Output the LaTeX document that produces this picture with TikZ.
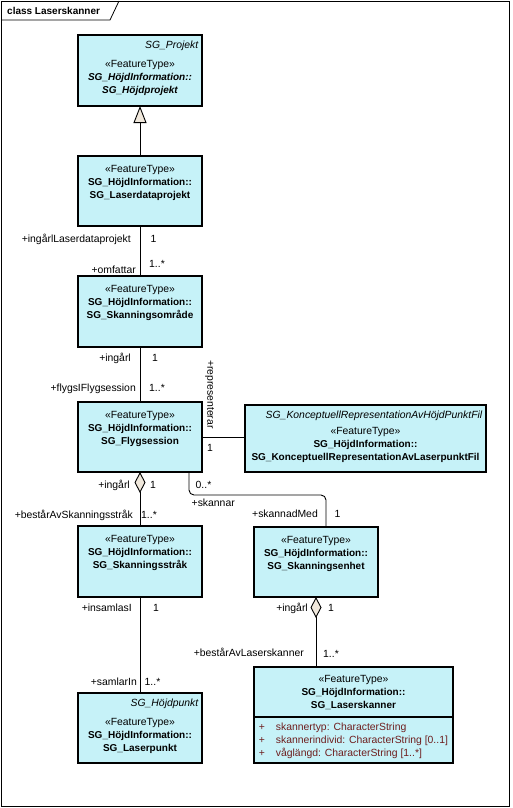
\documentclass[tikz,border=0pt]{standalone}
\usepackage{fontspec}
\setmainfont{Liberation Sans}
\usetikzlibrary{arrows.meta,positioning,calc}
\definecolor{klassFill}{RGB}{198,242,248}
\definecolor{tipFill}{RGB}{240,232,220}
\definecolor{attrText}{RGB}{110,30,30}

\begin{document}
\begin{tikzpicture}[x=1pt,y=-1pt,
    klass/.style={draw=black,line width=1.1pt,fill=klassFill,rectangle,anchor=north west,inner sep=0pt,outer sep=0pt},
    ktext/.style={align=center,inner sep=0pt,font=\fontsize{10.4}{13}\selectfont},
    rolle/.style={inner sep=0pt,text height=7.2pt,text depth=0pt,font=\fontsize{10.4}{13}\selectfont},
    assoc/.style={draw=black,line width=0.9pt},
    agg/.style={assoc,{Diamond[length=21pt,width=11pt,fill=tipFill,line width=0.9pt]}-},
    gen/.style={assoc,-{Triangle[length=17pt,width=13pt,fill=tipFill,line width=0.9pt]}}]

      \useasboundingbox (0,0) rectangle (512,808);

      % draw the frame
      \draw[line width=0.8pt] (1,1) rectangle (509,806);
      \draw[line width=0.8pt] (1,20) -- (110,20) -- (119,1);
      \node[rolle,anchor=west,font=\fontsize{10}{13}\selectfont\bfseries] (rubrik) at (7,11) {class Laserskanner};

      % draw the classes
      \def\klasser{
        hprojekt/78/35/124/71/24.7/\bfseries\itshape/SG\_Höjdprojekt,
        dataproj/78/156/124/70/9.4/\bfseries/SG\_Laserdataprojekt,
        omrade/78/276/124/71/9.4/\bfseries/SG\_Skanningsområde,
        flyg/78/402/124/70/9.4/\bfseries/SG\_Flygsession,
        konc/245/405/241/67/22.4/\bfseries/SG\_KonceptuellRepresentationAvLaserpunktFil,
        strak/78/526/124/71/9.4/\bfseries/SG\_Skanningsstråk,
        enhet/254/527/124/70/9.4/\bfseries/SG\_Skanningsenhet,
        punkt/78/693/124/70/25.4/\bfseries/SG\_Laserpunkt,
        skanner/254/667/199/96/8.4/\bfseries/SG\_Laserskanner
      }
      \foreach \id/\x/\y/\w/\h/\ned/\stil/\titel in \klasser
      {
        \node[klass,minimum width=\w pt,minimum height=\h pt] (\id) at (\x,\y) {};
        \node[ktext,below=\ned pt of \id.north] (\id-text) {«FeatureType»\\{\fontsize{10}{13}\selectfont\stil SG\_HöjdInformation::}\\{\fontsize{10}{13}\selectfont\stil \titel}};
      }

      % the abstract parents
      \foreach \id/\tag in {hprojekt/SG\_Projekt, konc/SG\_KonceptuellRepresentationAvHöjdPunktFil, punkt/SG\_Höjdpunkt}
        \node[rolle,anchor=east,font=\fontsize{10.4}{13}\selectfont\itshape] (\id-tag) at ([xshift=-3.5pt,yshift=-10pt]\id.north east) {\tag};

      % attributes of the laser scanner
      \draw[line width=1.1pt] ([yshift=-50pt]skanner.north west) -- ([yshift=-50pt]skanner.north east);
      \foreach \a [count=\i] in {skannertyp: CharacterString, skannerindivid: CharacterString [0..1], våglängd: CharacterString [1..*]}
      {
        \node[rolle,anchor=west,text=attrText] (plus\i) at ([xshift=4.7pt,yshift={-47pt-13pt*\i}]skanner.north west) {+};
        \node[rolle,anchor=west,text=attrText] (attr\i) at ([xshift=21.7pt,yshift={-47pt-13pt*\i}]skanner.north west) {\a};
      }

      % draw the associations
      \draw[gen] (dataproj.north) -- (hprojekt.south);
      \draw[assoc] (dataproj.south) -- (omrade.north);
      \draw[assoc] (omrade.south) -- (flyg.north);
      \draw[assoc] (flyg.east) -- (flyg.east -| konc.west);
      \draw[agg] (flyg.south) -- (strak.north);
      \draw[assoc,rounded corners=5pt] ([xshift=49pt]flyg.south) -- ++(0,23) -| ([xshift=10pt]enhet.north);
      \draw[agg] (enhet.south) -- (enhet.south |- skanner.north);
      \draw[assoc] (strak.south) -- (punkt.north);

      % label the association ends
      \def\roller{131/239/+ingårlLaserdataprojekt, 136/270/+omfattar, 131/358/+ingårl,
        136/388/+flygsIFlygsession, 130/485/+ingårl, 133/515/+bestårAvSkanningsstråk,
        132/608/+insamlasI, 137/682/+samlarIn, 318/514/+skannadMed, 308/608/+ingårl,
        304/653/+bestårAvLaserskanner}
      \foreach \x/\y/\t [count=\i] in \roller
        \node[rolle,anchor=east] (roll\i) at (\x,\y) {\t};

      \def\multipl{150.5/239/1, 149/264/1..*, 152/358/1, 149/388/1..*, 207/448/1,
        150/485/1, 141/515/1..*, 195.5/485/0..*, 191.5/503/+skannar, 153/608/1,
        144.5/682/1..*, 334.5/514/1, 328/608/1, 323/654/1..*}
      \foreach \x/\y/\t [count=\i] in \multipl
        \node[rolle,anchor=west] (mult\i) at (\x,\y) {\t};

      \node[rolle,rotate=-90,anchor=west] (rep) at (211,360) {+representerar};

\end{tikzpicture}
\end{document}
